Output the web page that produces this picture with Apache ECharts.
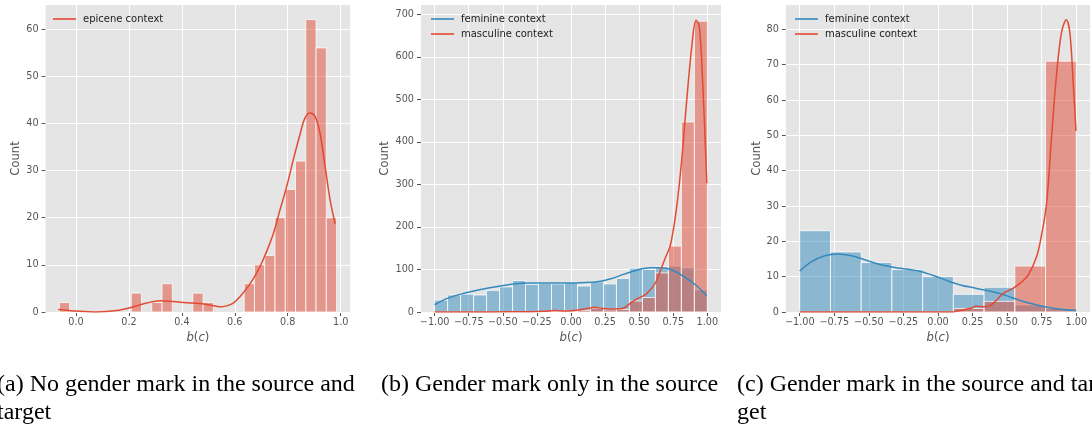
<!DOCTYPE html>
<html><head><meta charset="utf-8">
<script src="https://cdn.jsdelivr.net/npm/echarts@6/dist/echarts.min.js"></script>
<style>html,body{margin:0;padding:0;background:#fff}#c{width:1092px;height:427px}</style>
</head><body><div id="c"></div>
<script>
// ---------------- data ----------------
// (a) epicene context
const epiceneBinStart = -0.063;
const epiceneBinWidth = 0.0388;
const epiceneCounts = [2,0,0,0,0,0,0,4,0,2,6,0,0,4,2,0,0,0,6,10,12,20,26,32,62,56,20];
const epiceneKde = [[-0.067,0.55],[0.003,0.2],[0.078,0.0],[0.154,0.3],[0.217,1.1],[0.267,1.9],[0.317,2.4],[0.355,2.3],[0.406,2.0],[0.469,1.8],[0.506,1.5],[0.544,1.1],[0.569,1.3],[0.594,1.9],[0.620,3.3],[0.645,5.0],[0.670,7.1],[0.695,9.6],[0.720,12.8],[0.746,16.7],[0.771,21.7],[0.796,26.6],[0.821,32.3],[0.846,37.6],[0.865,41.1],[0.884,42.2],[0.903,41.5],[0.922,37.9],[0.941,30.9],[0.960,23.8],[0.979,18.7]];

// (b) gender mark only in the source
const sourceOnlyBinStart = -1;
const sourceOnlyBinWidth = 2 / 21;
const sourceOnlyFeminine = [28,40,42,40,51,59,74,65,67,66,69,61,71,66,79,103,100,106,108,104,52];
const sourceOnlyMasculine = [0,0,0,0,0,0,0,1,0,2,2,4,9,5,6,26,34,92,155,447,684];
const sourceOnlyFeminineKde = [[-1.0,17],[-0.907,32],[-0.785,44],[-0.663,53],[-0.54,60],[-0.418,66],[-0.296,68],[-0.174,68],[-0.051,68],[0.071,69],[0.193,71],[0.291,78],[0.389,89],[0.487,99],[0.584,104],[0.658,104],[0.731,100],[0.829,83],[0.927,60],[0.995,38]];
const sourceOnlyMasculineKde = [[-1.0,0.2],[-0.6,0.2],[-0.3,0.8],[-0.2,1.5],[-0.12,3.5],[-0.044,2.4],[0.054,4.7],[0.127,8.6],[0.176,11],[0.225,8.6],[0.274,7],[0.323,7],[0.384,8.6],[0.433,20],[0.482,31],[0.543,40],[0.58,52],[0.617,67],[0.653,95],[0.69,126],[0.731,160],[0.775,248],[0.812,358],[0.849,499],[0.886,625],[0.917,686],[0.941,672],[0.966,538],[0.996,303]];

// (c) gender mark in the source and target
const bothBinStart = -1;
const bothBinWidth = 2 / 9;
const bothFeminine = [23,17,14,12,10,5,7,2,1];
const bothMasculine = [0,0,0,0,0,1,3,13,71];
const bothFeminineKde = [[-1.0,11.6],[-0.916,14.2],[-0.819,15.9],[-0.723,16.4],[-0.627,15.9],[-0.53,14.8],[-0.434,13.6],[-0.313,12.6],[-0.217,12.1],[-0.12,11.4],[-0.024,10.2],[0.072,8.8],[0.169,7.6],[0.265,6.8],[0.361,6.0],[0.458,5.1],[0.554,3.8],[0.651,2.6],[0.771,1.5],[0.892,0.75],[1.0,0.4]];
const bothMasculineKde = [[-1.0,0],[0.1,0],[0.159,0.4],[0.231,1.0],[0.28,1.6],[0.328,1.5],[0.376,1.8],[0.424,3.4],[0.472,5.3],[0.533,6.5],[0.593,8.1],[0.653,10.5],[0.714,15.8],[0.75,22],[0.786,31],[0.822,50],[0.858,67.5],[0.894,79.3],[0.928,82.7],[0.954,78.9],[0.978,64.7],[0.998,51.2]];

// ticks
const ticksAx = [0.0,0.2,0.4,0.6,0.8,1.0];
const ticksAy = [0,10,20,30,40,50,60];
const ticksBCx = [-1.0,-0.75,-0.5,-0.25,0.0,0.25,0.5,0.75,1.0];
const ticksBy = [0,100,200,300,400,500,600,700];
const ticksCy = [0,10,20,30,40,50,60,70,80];

const labelEpicene = 'epicene context';
const labelFem = 'feminine context';
const labelMasc = 'masculine context';
const captions = [
  ['(a) No gender mark in the source and', 'target'],
  ['(b) Gender mark only in the source'],
  ['(c) Gender mark in the source and tar', 'get']
];

// ---------------- chart ----------------
const RED = '#E24A33', BLUE = '#348ABD';
const RED_FILL = 'rgba(226,74,51,0.5)', BLUE_FILL = 'rgba(52,138,189,0.5)';

function bins(start, width, counts) {
  return counts.map((c, i) => [start + i * width, start + (i + 1) * width, c]);
}
function barSeries(name, idx, data, fill, z) {
  return {
    name: name, type: 'custom', xAxisIndex: idx, yAxisIndex: idx, z: z, clip: true,
    encode: { x: [0, 1], y: 2 },
    data: data,
    renderItem: function (params, api) {
      const h = api.value(2);
      if (!h) return null;
      const p0 = api.coord([api.value(0), h]);
      const p1 = api.coord([api.value(1), 0]);
      return {
        type: 'rect',
        shape: { x: p0[0], y: p0[1], width: p1[0] - p0[0], height: p1[1] - p0[1] },
        style: { fill: fill, stroke: 'rgba(255,255,255,0.75)', lineWidth: 1 }
      };
    }
  };
}
function lineSeries(name, idx, data, color, gx, gy) {
  const s = {
    name: name, type: 'line', xAxisIndex: idx, yAxisIndex: idx, z: 5,
    data: data, symbol: 'none', showSymbol: false, smooth: 0.35, clip: true,
    lineStyle: { color: color, width: 1.5 }, itemStyle: { color: color }
  };
  if (gx) {
    s.markLine = {
      silent: true, z: 1, symbol: ['none', 'none'], animation: false,
      label: { show: false }, emphasis: { disabled: true },
      lineStyle: { color: '#ffffff', width: 1, type: 'solid' },
      data: gx.map(v => ({ xAxis: v })).concat(gy.map(v => ({ yAxis: v })))
    };
  }
  return s;
}
const tickFont = { color: '#555555', fontSize: 9.7, fontFamily: 'DejaVu Sans' };
function fmtMinus(d) { return v => (v < 0 ? '\u2212' : '') + Math.abs(v).toFixed(d); }
function xAxis(idx, min, max, ticks, dec) {
  return {
    type: 'value', gridIndex: idx, min: min, max: max,
    axisLine: { show: false, onZero: false },
    axisTick: { show: true, length: 4, customValues: ticks, lineStyle: { color: '#555555', width: 1 } },
    axisLabel: Object.assign({ customValues: ticks, formatter: fmtMinus(dec), margin: 5 }, tickFont),
    splitLine: { show: false },
    name: '{i|b}({i|c})', nameLocation: 'middle', nameGap: 19,
    nameTextStyle: { color: '#555555', fontSize: 11.7, fontFamily: 'DejaVu Sans',
      rich: { i: { fontStyle: 'italic', color: '#555555', fontSize: 11.7, fontFamily: 'DejaVu Sans' } } }
  };
}
function yAxis(idx, max, ticks, gap) {
  return {
    type: 'value', gridIndex: idx, min: 0, max: max,
    axisLine: { show: false, onZero: false },
    axisTick: { show: true, length: 4, customValues: ticks, lineStyle: { color: '#555555', width: 1 } },
    axisLabel: Object.assign({ customValues: ticks, formatter: v => String(Math.round(v)), margin: 7 }, tickFont),
    splitLine: { show: false },
    name: 'Count', nameLocation: 'middle', nameGap: gap, nameRotate: 90,
    nameTextStyle: { color: '#555555', fontSize: 11.7, fontFamily: 'DejaVu Sans' }
  };
}
function legend(left, names) {
  return {
    data: names, left: left, top: 13, orient: 'vertical', padding: 0,
    icon: 'rect', itemWidth: 23, itemHeight: 1.6, itemGap: 3,
    textStyle: { color: '#222222', fontSize: 10, fontFamily: 'DejaVu Sans', lineHeight: 12, padding: [0, 0, 0, 2] }
  };
}

const gridStyle = { show: true, backgroundColor: '#E5E5E5', borderWidth: 0, top: 5, bottom: 115 };
const graphic = [];
const capX = [-3, 381, 737];
captions.forEach((lines, k) => {
  lines.forEach((t, j) => {
    graphic.push({ type: 'text', x: capX[k], y: 385 + j * 28,
      style: { text: t, fontSize: 24, fontFamily: 'Liberation Serif', fill: '#000000', align: 'left', verticalAlign: 'middle' } });
  });
});

const option = {
  animation: false,
  backgroundColor: '#ffffff',
  grid: [
    Object.assign({ left: 45.6, width: 304.6 }, gridStyle),
    Object.assign({ left: 421, width: 300 }, gridStyle),
    Object.assign({ left: 785.9, width: 304.2 }, gridStyle)
  ],
  xAxis: [
    xAxis(0, -0.115, 1.036, ticksAx, 1),
    xAxis(1, -1.1, 1.1, ticksBCx, 2),
    xAxis(2, -1.1, 1.1, ticksBCx, 2)
  ],
  yAxis: [
    yAxis(0, 65.1, ticksAy, 24),
    yAxis(1, 722, ticksBy, 30),
    yAxis(2, 86.9, ticksCy, 23)
  ],
  legend: [
    legend(53, [labelEpicene]),
    legend(431, [labelFem, labelMasc]),
    legend(795, [labelFem, labelMasc])
  ],
  graphic: graphic,
  series: [
    barSeries('bars-a', 0, bins(epiceneBinStart, epiceneBinWidth, epiceneCounts), RED_FILL, 2),
    lineSeries(labelEpicene, 0, epiceneKde, RED, ticksAx, ticksAy),
    barSeries('bars-b-f', 1, bins(sourceOnlyBinStart, sourceOnlyBinWidth, sourceOnlyFeminine), BLUE_FILL, 2),
    barSeries('bars-b-m', 1, bins(sourceOnlyBinStart, sourceOnlyBinWidth, sourceOnlyMasculine), RED_FILL, 3),
    lineSeries(labelFem, 1, sourceOnlyFeminineKde, BLUE, ticksBCx, ticksBy),
    lineSeries(labelMasc, 1, sourceOnlyMasculineKde, RED),
    barSeries('bars-c-f', 2, bins(bothBinStart, bothBinWidth, bothFeminine), BLUE_FILL, 2),
    barSeries('bars-c-m', 2, bins(bothBinStart, bothBinWidth, bothMasculine), RED_FILL, 3),
    lineSeries(labelFem, 2, bothFeminineKde, BLUE, ticksBCx, ticksCy),
    lineSeries(labelMasc, 2, bothMasculineKde, RED)
  ]
};
const chart = echarts.init(document.getElementById('c'), null, { renderer: 'canvas' });
chart.setOption(option);
</script></body></html>
